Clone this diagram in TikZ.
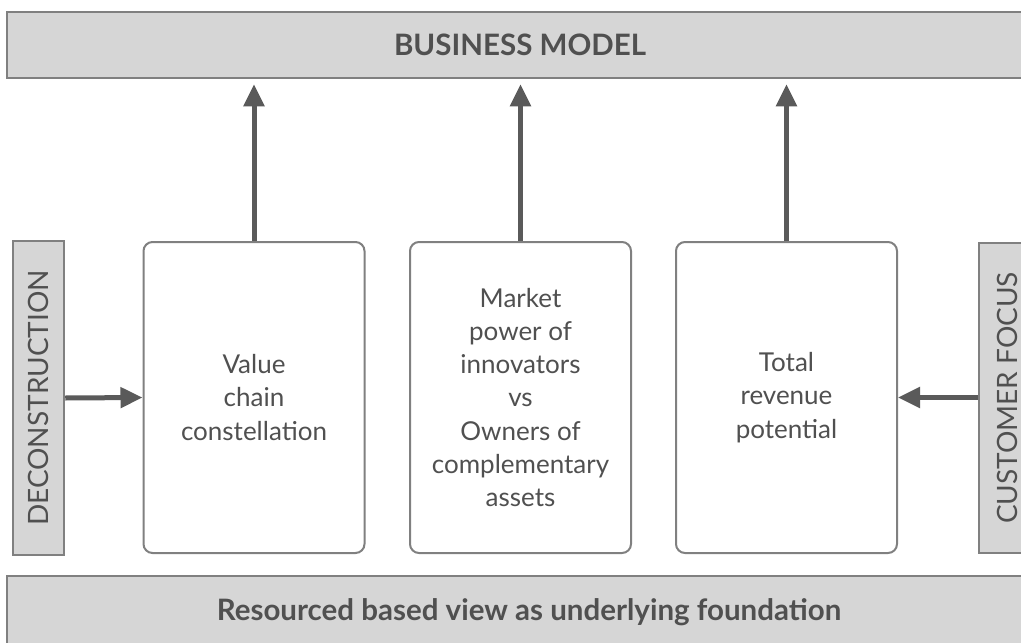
\documentclass[tikz,border=0pt]{standalone}
\usepackage{fontspec}
\setmainfont{Lato}
\usetikzlibrary{arrows.meta}
\definecolor{barfill}{HTML}{D6D6D6}
\definecolor{edge}{HTML}{808080}
\definecolor{ink}{HTML}{505050}
\definecolor{arrowc}{HTML}{5A5A5A}
\tikzset{
  bar/.style={draw=edge, line width=2.5pt, fill=barfill, inner sep=0pt, text=ink, font=\fontsize{29.5}{34}\selectfont\bfseries},
  sidebar/.style={draw=edge, line width=2.5pt, fill=barfill, inner sep=0pt, text=ink, font=\fontsize{28}{32}\selectfont, rotate=90},
  card/.style={draw=edge, line width=2pt, fill=white, rounded corners=9pt, minimum width=221pt, minimum height=311pt, inner sep=0pt, align=center, text=ink, font=\fontsize{26}{33.3}\selectfont},
  flow/.style={draw=arrowc, line width=5pt, -{Triangle[length=22pt,width=20pt]}}
}
\begin{document}
\begin{tikzpicture}[x=1pt,y=-1pt]
\useasboundingbox (0,0) rectangle (1021,643);
\clip (0,0) rectangle (1021,643);
\fill[white] (0,0) rectangle (1021,643);
\node[bar, minimum width=1026pt, minimum height=66pt] (bm) at (520,45) {BUSINESS MODEL};
\node[bar, minimum width=1044pt, minimum height=72pt] (rbv) at (529,612) {Resourced based view as underlying foundation};
\node[sidebar, minimum width=314pt, minimum height=51pt] (dec) at (38.5,398) {DECONSTRUCTION};
\node[sidebar, minimum width=310pt, minimum height=56pt] (cf) at (1007,398) {CUSTOMER FOCUS};
\node[card] (vc) at (254,397.5) {Value\\chain\\constellation};
\node[card] (mp) at (520.5,397.5) {Market\\power of\\innovators\\vs\\Owners of\\complementary\\assets};
\node[card] (tr) at (786.5,397.5) {Total\\revenue\\potential};
\draw[flow, shorten >=5pt] (vc.north) -- (vc.north |- bm.south);
\draw[flow, shorten >=5pt] (mp.north) -- (mp.north |- bm.south);
\draw[flow, shorten >=5pt] (tr.north) -- (tr.north |- bm.south);
\draw[flow] (dec.south) -- (vc.west);
\draw[flow] (cf.north |- tr.east) -- (tr.east);
\end{tikzpicture}
\end{document}
